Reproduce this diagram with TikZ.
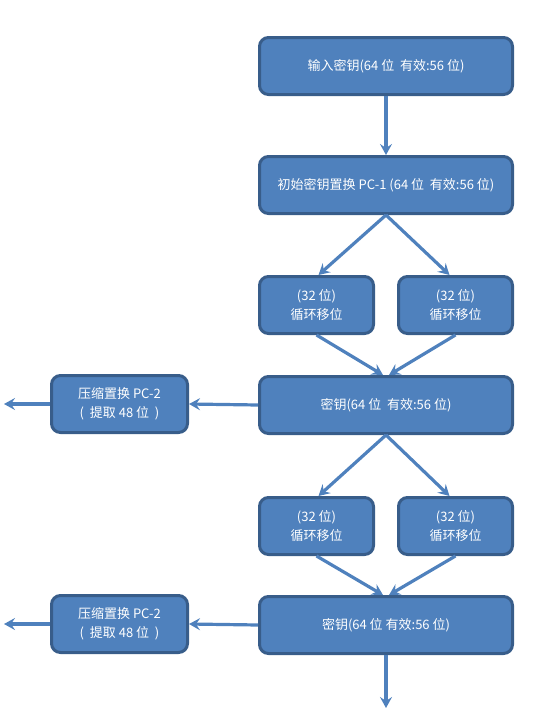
\documentclass[tikz,border=0pt]{standalone}
\usepackage{fontspec}
\setmainfont{Noto Sans CJK SC}
\usetikzlibrary{arrows.meta}
\definecolor{boxfill}{HTML}{4F81BD}
\definecolor{boxline}{HTML}{385D8A}
\begin{document}
\begin{tikzpicture}[x=1pt,y=-1pt,
  blk/.style={draw=boxline,fill=boxfill,line width=3pt,rounded corners=9pt,
    text=white,font=\fontsize{13}{19}\selectfont,align=center,inner sep=0pt},
  wide/.style={blk,minimum width=253pt,minimum height=57pt},
  small/.style={blk,minimum width=114pt,minimum height=57pt},
  pc/.style={blk,minimum width=136pt,minimum height=57pt},
  arr/.style={draw=boxfill,line width=3.2pt,-{Stealth[length=11pt,width=12pt,inset=4pt]}}]
\useasboundingbox (0,0) rectangle (535,718);
\node[wide] (k0) at (386,66) {输入密钥(64 位\ \ 有效:56 位)};
\node[wide] (k1) at (386,185) {初始密钥置换 PC-1 (64 位\ \ 有效:56 位)};
\node[small] (l1) at (316.5,305) {(32 位)\\循环移位};
\node[small] (r1) at (455.5,305) {(32 位)\\循环移位};
\node[wide] (k2) at (386,405) {密钥(64 位\ \ 有效:56 位)};
\node[pc] (p1) at (119.5,404) {压缩置换 PC-2\\(\ \ 提取 48 位\ \ )};
\node[small] (l2) at (316.5,526) {(32 位)\\循环移位};
\node[small] (r2) at (455.5,526) {(32 位)\\循环移位};
\node[wide] (k3) at (386,625) {密钥(64 位\ 有效:56 位)};
\node[pc] (p2) at (119.5,624) {压缩置换 PC-2\\(\ \ 提取 48 位\ \ )};
\coordinate (e1) at (4,404);
\coordinate (e2) at (4,624);
\coordinate (e3) at (386,708);
\draw[arr] (k0.south) -- (k1.north);
\draw[arr] (k1.south) -- ([xshift=2pt]l1.north);
\draw[arr] (k1.south) -- ([xshift=-6pt]r1.north);
\draw[arr] (l1.south) -- ([xshift=-3pt]k2.north);
\draw[arr] (r1.south) -- ([xshift=3pt]k2.north);
\draw[arr] (k2.west) -- (p1.east);
\draw[arr] (p1.west) -- (e1);
\draw[arr] (k2.south) -- ([xshift=2pt]l2.north);
\draw[arr] (k2.south) -- ([xshift=-6pt]r2.north);
\draw[arr] (l2.south) -- ([xshift=-3pt]k3.north);
\draw[arr] (r2.south) -- ([xshift=3pt]k3.north);
\draw[arr] (k3.west) -- (p2.east);
\draw[arr] (p2.west) -- (e2);
\draw[arr] (k3.south) -- (e3);
\end{tikzpicture}
\end{document}
